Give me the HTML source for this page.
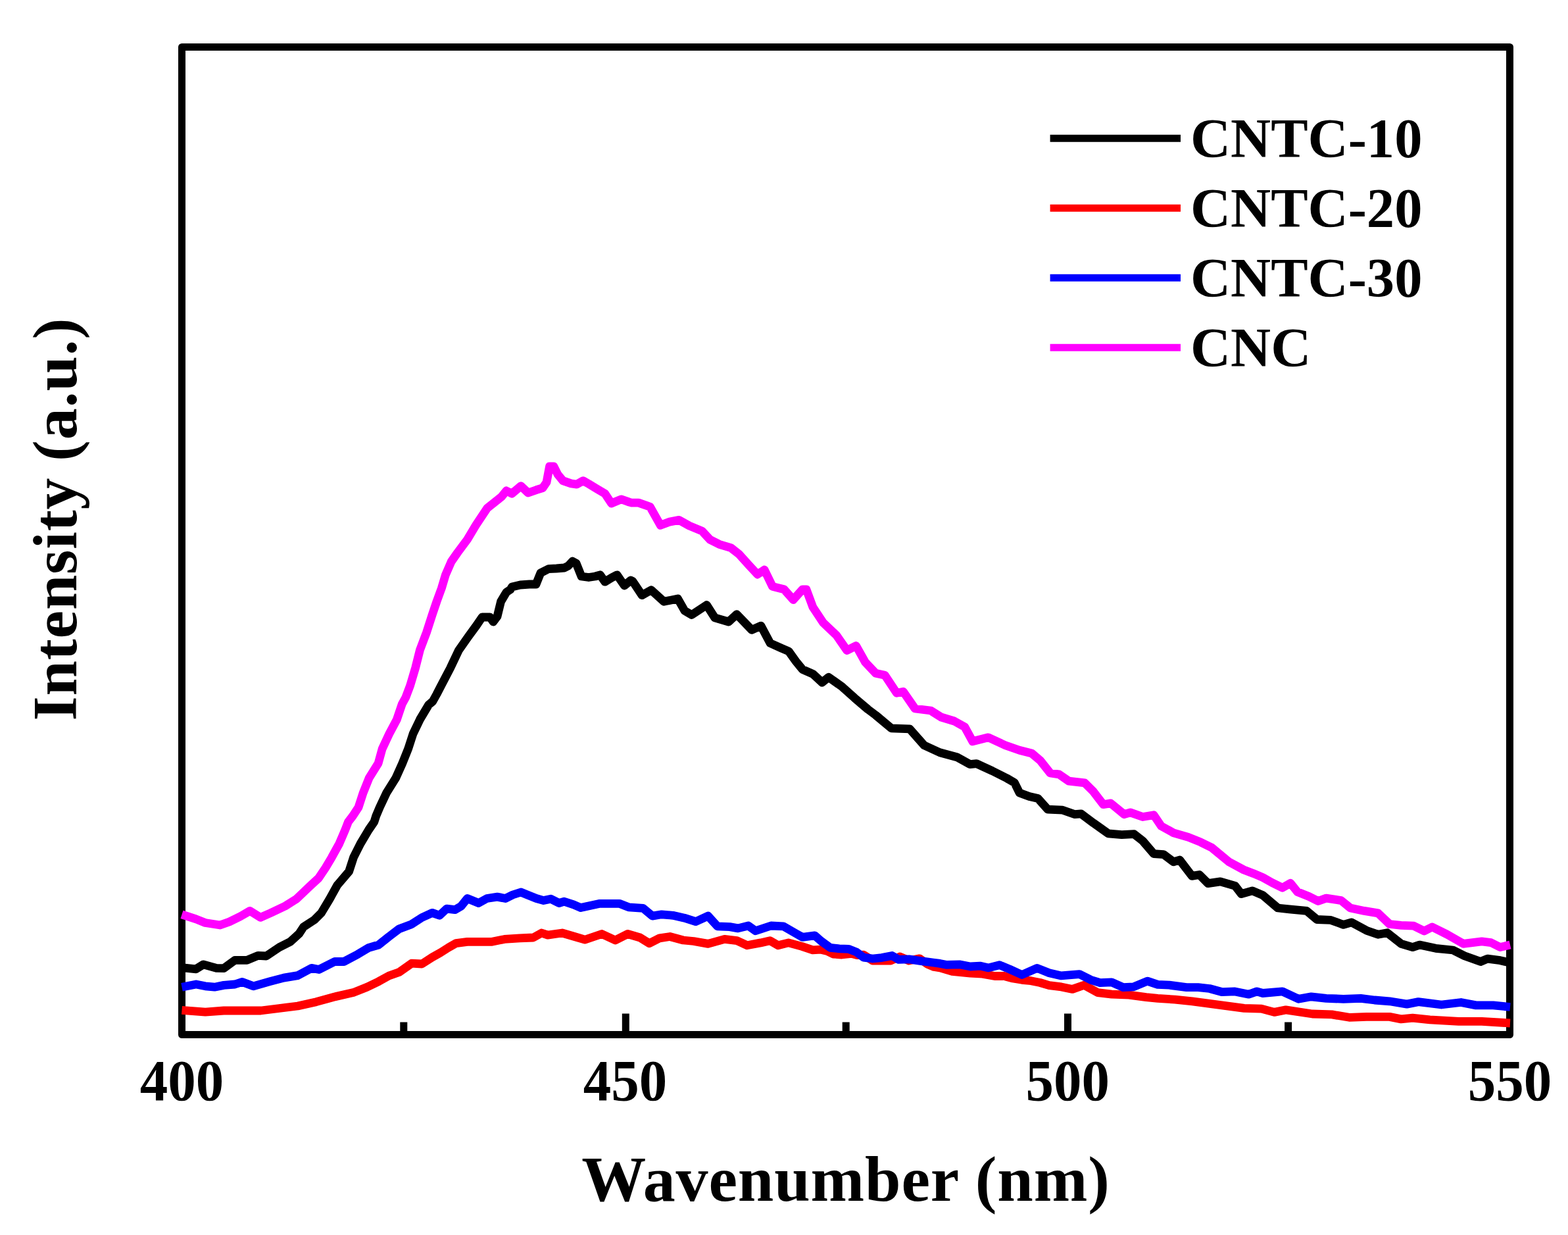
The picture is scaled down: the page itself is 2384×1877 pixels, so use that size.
<!DOCTYPE html>
<html><head><meta charset="utf-8"><title>Intensity vs Wavenumber</title>
<style>html,body{margin:0;padding:0;background:#fff;}body{width:2384px;height:1877px;overflow:hidden;}svg{display:block;}</style>
</head><body>
<svg width="2384" height="1877" viewBox="0 0 2384 1877">
<rect x="0" y="0" width="2384" height="1877" fill="#fff"/>
<rect x="276.5" y="71.5" width="2019" height="1501" fill="none" stroke="#000" stroke-width="11" stroke-linejoin="round"/>
<line x1="951.3" y1="1540.5" x2="951.3" y2="1568" stroke="#000" stroke-width="11"/>
<line x1="1623.5" y1="1540.5" x2="1623.5" y2="1568" stroke="#000" stroke-width="11"/>
<line x1="613.8" y1="1553.5" x2="613.8" y2="1568" stroke="#000" stroke-width="11"/>
<line x1="1286.2" y1="1553.5" x2="1286.2" y2="1568" stroke="#000" stroke-width="11"/>
<line x1="1958.6" y1="1553.5" x2="1958.6" y2="1568" stroke="#000" stroke-width="11"/>
<polyline points="276.5,1470.7 298.0,1472.8 309.3,1465.8 329.0,1471.4 340.3,1471.7 357.1,1459.4 375.4,1459.4 392.2,1452.4 404.9,1453.0 424.6,1439.8 441.4,1431.3 454.8,1419.1 461.7,1408.6 478.0,1398.0 488.5,1387.5 501.2,1366.4 512.8,1345.4 530.7,1324.3 537.5,1303.2 548.1,1282.1 560.7,1261.0 568.9,1249.1 571.8,1240.0 577.3,1226.9 587.9,1204.6 601.8,1182.4 611.8,1160.1 620.7,1137.9 627.9,1115.6 638.5,1093.4 651.8,1071.1 657.9,1066.0 664.0,1055.0 670.7,1042.0 684.8,1015.1 697.6,988.1 711.8,967.9 724.6,950.4 733.0,938.0 745.0,938.0 750.0,945.0 756.0,937.0 761.6,914.1 770.0,900.0 776.0,896.0 778.4,892.0 791.0,889.0 805.0,888.0 815.0,888.0 822.0,870.7 834.0,864.6 846.0,864.0 858.0,863.0 864.0,860.0 870.5,853.0 876.0,856.0 884.0,876.0 895.0,877.5 905.0,876.0 912.4,873.8 919.8,884.2 930.0,878.0 938.2,873.8 949.3,890.0 959.0,882.0 962.0,883.5 976.1,904.6 990.1,896.7 1009.4,914.3 1030.5,909.9 1041.0,928.3 1051.6,934.5 1074.4,919.5 1086.7,938.8 1107.8,945.0 1120.1,933.6 1142.9,957.3 1156.9,951.1 1171.0,977.5 1188.6,985.4 1199.1,989.8 1210.0,1005.0 1220.0,1017.3 1235.9,1024.3 1249.9,1037.2 1259.8,1029.3 1279.7,1043.2 1299.6,1061.1 1319.5,1078.0 1331.5,1087.0 1355.3,1106.9 1383.2,1107.9 1405.1,1132.8 1429.0,1143.7 1454.9,1150.7 1474.8,1161.7 1484.7,1160.6 1508.6,1171.6 1530.5,1182.6 1542.4,1189.5 1550.0,1204.9 1565.0,1210.5 1578.1,1213.4 1593.1,1230.2 1615.6,1231.2 1634.3,1237.7 1643.7,1236.8 1662.4,1250.8 1684.9,1266.8 1705.5,1268.6 1724.3,1267.7 1737.4,1278.0 1754.2,1297.7 1769.2,1298.6 1784.2,1309.9 1793.6,1307.0 1812.3,1331.4 1823.6,1329.5 1836.7,1342.6 1855.4,1339.8 1877.9,1346.4 1887.3,1358.6 1904.1,1353.9 1920.0,1360.7 1942.8,1380.0 1960.3,1381.8 1986.6,1384.4 2002.3,1397.5 2023.4,1398.4 2042.6,1405.4 2054.9,1401.9 2077.7,1414.2 2095.2,1420.3 2109.2,1417.7 2130.2,1434.3 2147.8,1439.6 2158.3,1436.1 2182.8,1441.3 2209.1,1444.0 2226.6,1452.7 2251.1,1461.5 2261.6,1457.1 2280.9,1459.7 2296.0,1463.2" fill="none" stroke="#000" stroke-width="12.8" stroke-linejoin="round" stroke-linecap="butt"/>
<polyline points="276.5,1535.3 312.2,1538.1 340.3,1536.0 368.4,1536.0 396.5,1536.0 424.6,1532.5 452.7,1529.0 480.8,1522.7 508.9,1514.9 537.0,1508.6 558.0,1500.2 575.7,1491.7 591.4,1483.0 607.0,1477.5 625.8,1464.2 641.5,1465.0 657.2,1454.8 669.7,1447.8 682.3,1439.9 693.3,1433.7 710.5,1431.3 724.6,1431.3 748.1,1431.3 767.0,1427.4 790.4,1425.8 810.8,1425.0 823.4,1418.0 832.8,1421.1 854.7,1418.0 873.5,1423.5 889.2,1428.2 915.0,1419.5 935.5,1429.0 954.3,1419.5 973.1,1425.0 987.2,1433.7 1002.9,1425.8 1018.5,1423.5 1038.9,1429.0 1054.6,1430.5 1076.5,1434.4 1101.6,1427.4 1120.4,1429.7 1136.1,1436.8 1156.5,1432.9 1170.6,1429.7 1183.2,1436.8 1198.8,1432.9 1219.2,1438.4 1235.7,1443.9 1248.4,1443.2 1257.7,1445.5 1266.9,1450.1 1280.0,1451.0 1294.5,1449.4 1303.8,1451.7 1313.0,1451.2 1326.8,1460.0 1345.0,1460.0 1354.5,1460.0 1368.0,1454.0 1382.0,1460.0 1398.0,1456.8 1410.0,1465.3 1420.0,1469.5 1429.2,1470.9 1447.7,1476.4 1475.3,1479.2 1493.8,1480.1 1512.2,1483.5 1526.0,1483.3 1539.9,1487.0 1553.7,1489.3 1567.5,1490.7 1581.4,1493.5 1595.2,1497.6 1613.6,1499.9 1630.6,1503.4 1648.1,1497.2 1669.1,1508.6 1690.2,1511.2 1716.4,1512.1 1742.7,1515.6 1760.2,1517.4 1786.5,1519.1 1812.8,1521.8 1839.1,1525.3 1865.3,1528.8 1891.6,1532.3 1917.9,1533.1 1937.5,1538.4 1955.0,1534.9 1995.3,1541.0 2025.1,1541.9 2051.4,1546.3 2077.7,1545.4 2112.7,1545.4 2130.2,1548.9 2147.8,1547.2 2174.0,1549.8 2217.8,1552.4 2252.9,1552.4 2296.0,1555.0" fill="none" stroke="#f00" stroke-width="12.8" stroke-linejoin="round" stroke-linecap="butt"/>
<polyline points="276.5,1500.2 298.1,1496.0 312.2,1498.8 326.2,1500.2 340.3,1497.4 357.1,1496.0 368.4,1492.4 385.2,1498.8 410.5,1491.7 431.6,1486.1 452.7,1482.6 473.7,1471.4 485.0,1473.5 508.9,1461.5 522.9,1461.5 544.0,1450.3 560.0,1440.7 575.7,1436.0 591.4,1423.5 607.0,1411.7 625.8,1404.7 641.5,1394.5 657.2,1387.4 668.2,1391.3 679.1,1381.1 691.7,1382.7 701.1,1377.2 710.5,1365.5 727.7,1372.5 740.3,1365.5 756.0,1363.1 768.5,1365.5 779.5,1360.0 792.0,1356.0 799.9,1359.2 815.5,1365.5 826.5,1368.6 837.5,1366.2 850.0,1372.5 857.9,1370.2 872.0,1374.9 883.0,1379.6 890.0,1378.0 912.0,1373.3 941.7,1373.3 955.8,1378.8 977.8,1380.4 991.9,1392.1 1006.0,1389.8 1023.2,1391.3 1040.5,1395.2 1057.7,1400.7 1076.5,1392.1 1090.7,1407.8 1109.5,1408.6 1122.0,1410.9 1137.7,1407.0 1148.7,1414.8 1172.2,1407.0 1191.0,1407.8 1211.4,1419.5 1220.0,1424.3 1238.8,1421.9 1248.4,1430.3 1262.3,1440.4 1276.1,1441.8 1290.0,1442.3 1301.9,1446.9 1313.0,1455.2 1326.8,1457.0 1340.6,1455.6 1356.3,1452.4 1366.5,1458.4 1382.1,1457.9 1400.6,1460.7 1419.0,1463.0 1429.2,1464.4 1438.4,1466.3 1458.7,1465.8 1475.3,1469.0 1490.0,1468.1 1503.0,1470.9 1519.6,1466.7 1535.3,1473.2 1553.7,1481.5 1576.8,1471.4 1595.2,1478.7 1613.6,1482.9 1641.1,1480.6 1658.6,1489.3 1672.6,1493.7 1690.2,1492.9 1707.7,1500.7 1723.4,1499.9 1744.5,1491.1 1760.2,1496.4 1777.8,1497.2 1804.0,1500.7 1821.6,1500.7 1839.1,1502.5 1858.3,1507.7 1877.6,1506.9 1898.6,1511.2 1910.9,1506.9 1920.0,1509.5 1949.8,1506.9 1974.3,1518.3 1993.6,1514.8 2016.4,1517.4 2042.6,1518.3 2068.9,1517.4 2089.9,1520.0 2112.7,1521.8 2139.0,1526.1 2156.5,1522.6 2191.5,1527.0 2221.3,1523.5 2244.1,1527.9 2270.4,1527.9 2296.0,1530.5" fill="none" stroke="#00f" stroke-width="12.8" stroke-linejoin="round" stroke-linecap="butt"/>
<polyline points="276.5,1389.9 298.0,1396.9 312.0,1402.5 334.6,1406.0 348.7,1401.0 365.5,1392.7 380.0,1384.4 396.0,1394.4 411.6,1387.5 433.7,1377.0 450.6,1366.4 461.7,1355.9 472.7,1345.4 484.3,1334.8 494.9,1319.0 504.3,1303.2 515.9,1282.1 524.9,1261.0 529.5,1249.1 536.5,1240.0 545.0,1226.9 552.3,1204.6 561.2,1182.4 575.1,1160.1 581.2,1137.9 591.7,1115.6 603.4,1093.4 611.3,1070.0 616.8,1060.0 623.6,1042.0 631.6,1015.1 638.4,988.1 648.5,961.2 657.2,934.3 664.0,914.1 671.4,893.9 677.4,873.7 686.2,853.5 695.6,840.0 710.5,820.0 723.5,798.3 740.8,772.3 762.5,755.0 769.8,745.9 778.4,750.2 792.0,738.6 803.0,749.0 815.3,744.7 825.1,741.6 831.0,733.0 835.5,709.0 842.0,709.0 848.0,721.0 855.9,730.6 868.2,734.9 876.8,736.1 886.6,730.6 895.2,735.5 907.5,742.9 919.8,750.2 929.6,765.0 944.4,758.8 956.7,763.1 960.2,764.1 970.8,764.1 988.3,770.2 1004.2,798.3 1018.2,793.1 1032.3,790.4 1048.1,799.2 1067.4,807.1 1079.7,820.3 1093.7,827.3 1111.3,832.6 1123.6,842.3 1139.4,859.8 1151.7,873.0 1162.2,866.0 1174.5,891.4 1192.1,895.8 1206.1,911.6 1220.0,896.0 1226.0,896.0 1235.9,922.8 1251.8,946.7 1271.8,965.6 1287.7,988.5 1301.6,981.5 1315.5,1006.4 1331.5,1023.3 1345.4,1026.3 1363.3,1053.2 1373.3,1051.2 1391.2,1077.0 1415.1,1080.0 1431.0,1090.0 1450.9,1096.0 1466.8,1104.9 1478.8,1126.8 1502.6,1120.8 1528.5,1132.8 1550.0,1140.3 1568.7,1145.0 1581.9,1156.2 1596.8,1175.0 1610.0,1176.8 1625.0,1187.1 1649.3,1189.9 1662.4,1203.1 1677.4,1222.7 1688.7,1220.9 1709.3,1237.7 1718.6,1234.9 1737.4,1241.5 1754.2,1238.7 1765.5,1255.5 1784.2,1265.8 1806.7,1272.4 1825.4,1279.9 1842.3,1288.3 1868.5,1309.9 1891.0,1322.0 1906.0,1327.7 1920.0,1333.6 1934.0,1341.5 1949.8,1349.3 1962.0,1342.3 1972.6,1355.5 1990.1,1362.5 2004.1,1369.5 2016.4,1365.1 2039.1,1368.6 2053.1,1380.0 2074.2,1384.4 2095.2,1387.9 2112.7,1404.5 2130.2,1406.3 2149.5,1407.2 2165.3,1415.0 2177.5,1408.9 2200.3,1420.3 2224.8,1434.3 2252.9,1430.8 2266.9,1432.6 2280.9,1439.6 2296.0,1436.1" fill="none" stroke="#f0f" stroke-width="12.8" stroke-linejoin="round" stroke-linecap="butt"/>
<line x1="1596.6" y1="210.3" x2="1795" y2="210.3" stroke="#000" stroke-width="11"/>
<text x="1810" y="238.5" font-family="'Liberation Serif', 'Times New Roman', serif" font-weight="bold" font-size="84.6">CNTC-10</text>
<line x1="1596.6" y1="316.2" x2="1795" y2="316.2" stroke="#f00" stroke-width="11"/>
<text x="1810" y="344.6" font-family="'Liberation Serif', 'Times New Roman', serif" font-weight="bold" font-size="84.6">CNTC-20</text>
<line x1="1596.6" y1="422.3" x2="1795" y2="422.3" stroke="#00f" stroke-width="11"/>
<text x="1810" y="450.7" font-family="'Liberation Serif', 'Times New Roman', serif" font-weight="bold" font-size="84.6">CNTC-30</text>
<line x1="1596.6" y1="528.3" x2="1795" y2="528.3" stroke="#f0f" stroke-width="11"/>
<text x="1810" y="556.8" font-family="'Liberation Serif', 'Times New Roman', serif" font-weight="bold" font-size="84.6">CNC</text>
<text transform="translate(276.4,1672) scale(1,1.05)" x="0" y="0" text-anchor="middle" font-family="'Liberation Serif', 'Times New Roman', serif" font-weight="bold" font-size="85">400</text>
<text transform="translate(950.5,1672) scale(1,1.05)" x="0" y="0" text-anchor="middle" font-family="'Liberation Serif', 'Times New Roman', serif" font-weight="bold" font-size="85">450</text>
<text transform="translate(1623.2,1672) scale(1,1.05)" x="0" y="0" text-anchor="middle" font-family="'Liberation Serif', 'Times New Roman', serif" font-weight="bold" font-size="85">500</text>
<text transform="translate(2295.5,1672) scale(1,1.05)" x="0" y="0" text-anchor="middle" font-family="'Liberation Serif', 'Times New Roman', serif" font-weight="bold" font-size="85">550</text>
<text x="1286" y="1825" text-anchor="middle" font-family="'Liberation Serif', 'Times New Roman', serif" font-weight="bold" font-size="98" letter-spacing="0.88">Wavenumber (nm)</text>
<text transform="translate(115.5,789.2) rotate(-90)" x="0" y="0" text-anchor="middle" font-family="'Liberation Serif', 'Times New Roman', serif" font-weight="bold" font-size="96" letter-spacing="0.8">Intensity (a.u.)</text>
</svg>
</body></html>
